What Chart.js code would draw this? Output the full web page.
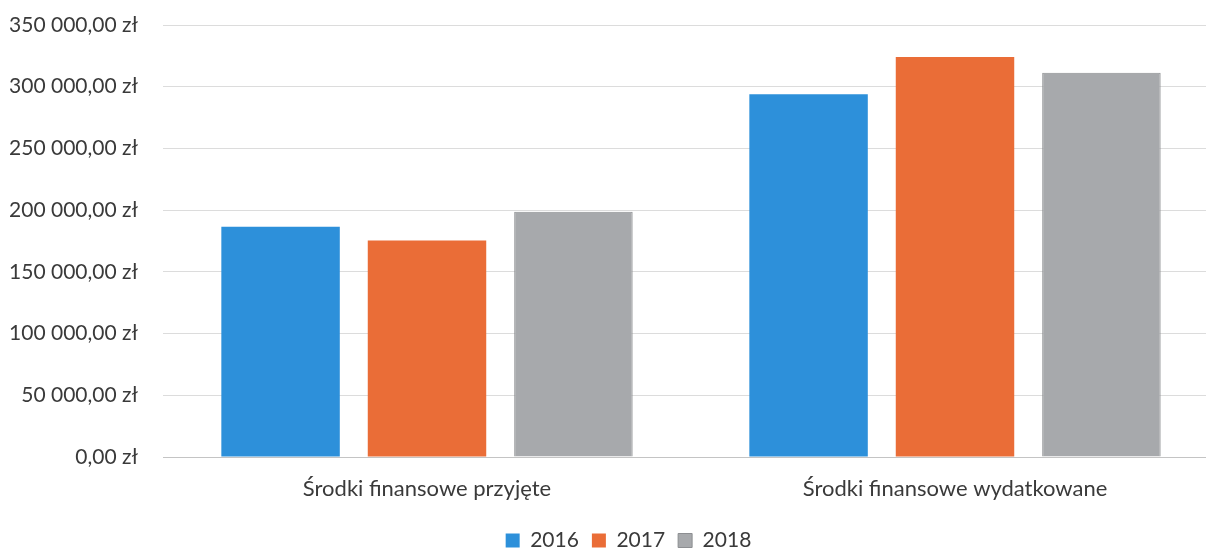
<!DOCTYPE html>
<html>
<head>
<meta charset="utf-8">
<script src="https://cdn.jsdelivr.net/npm/chart.js@4.4.1/dist/chart.umd.min.js"></script>
<style>
  html, body { margin:0; padding:0; background:#fff; overflow:hidden; width:1206px; height:549px; }
  #wrap { position:relative; width:1220px; height:549px; }
</style>
</head>
<body>
<div id="wrap"><canvas id="c"></canvas></div>
<script>
const categories = ['Środki finansowe przyjęte', 'Środki finansowe wydatkowane'];
const seriesLabels = ['2016', '2017', '2018'];
const values2016 = [186500, 293800];
const values2017 = [175400, 324000];
const values2018 = [198700, 311300];
const yTicks = [0, 50000, 100000, 150000, 200000, 250000, 300000, 350000];

function fmtZl(v) {
  return Math.round(v).toString().replace(/\B(?=(\d{3})+(?!\d))/g, ' ') + ',00 zł';
}

const legendShift = {
  id: 'legendShift',
  afterLayout(chart) {
    const l = chart.legend;
    if (l) { l.left += 14; l.right += 14; l.top += 12; l.bottom += 12; }
  }
};

new Chart(document.getElementById('c'), {
  type: 'bar',
  data: {
    labels: categories,
    datasets: [
      { label: seriesLabels[0], data: values2016, backgroundColor: '#2d90da', borderWidth: 0 },
      { label: seriesLabels[1], data: values2017, backgroundColor: '#ea6d37', borderWidth: 0 },
      { label: seriesLabels[2], data: values2018, backgroundColor: '#a7a9ac', borderColor: '#8c8e91', borderWidth: 1 }
    ]
  },
  options: {
    responsive: true,
    maintainAspectRatio: false,
    animation: false,
    devicePixelRatio: 1,
    categoryPercentage: 0.832,
    barPercentage: 0.809,
    layout: { padding: { left: 10, right: 1, top: 25, bottom: 0 } },
    scales: {
      x: {
        grid: { display: false, drawTicks: false },
        border: { display: true, color: '#c4c4c4', width: 1 },
        ticks: { color: '#3a3a3a', font: { family: 'Lato', size: 22 }, padding: 19, maxRotation: 0 },
        afterFit(s) { s.height = 48; }
      },
      y: {
        min: 0, max: 350000,
        afterBuildTicks(s) { s.ticks = yTicks.map(v => ({ value: v })); },
        grid: { color: (ctx) => ctx.tick && ctx.tick.value === 0 ? '#c4c4c4' : '#dcdcdc', lineWidth: 1, drawTicks: false },
        border: { display: false },
        ticks: { color: '#3a3a3a', font: { family: 'Lato', size: 21 }, padding: 25, callback: (v) => fmtZl(v) },
        afterFit(s) { s.width = 153; s.paddingTop = 0; s.paddingBottom = 0; }
      }
    },
    plugins: {
      legend: {
        position: 'bottom',
        labels: { color: '#3a3a3a', font: { family: 'Lato', size: 21 }, boxWidth: 14, boxHeight: 14, padding: 13 }
      },
      tooltip: { enabled: false }
    }
  },
  plugins: [legendShift]
});
</script>
</body>
</html>
